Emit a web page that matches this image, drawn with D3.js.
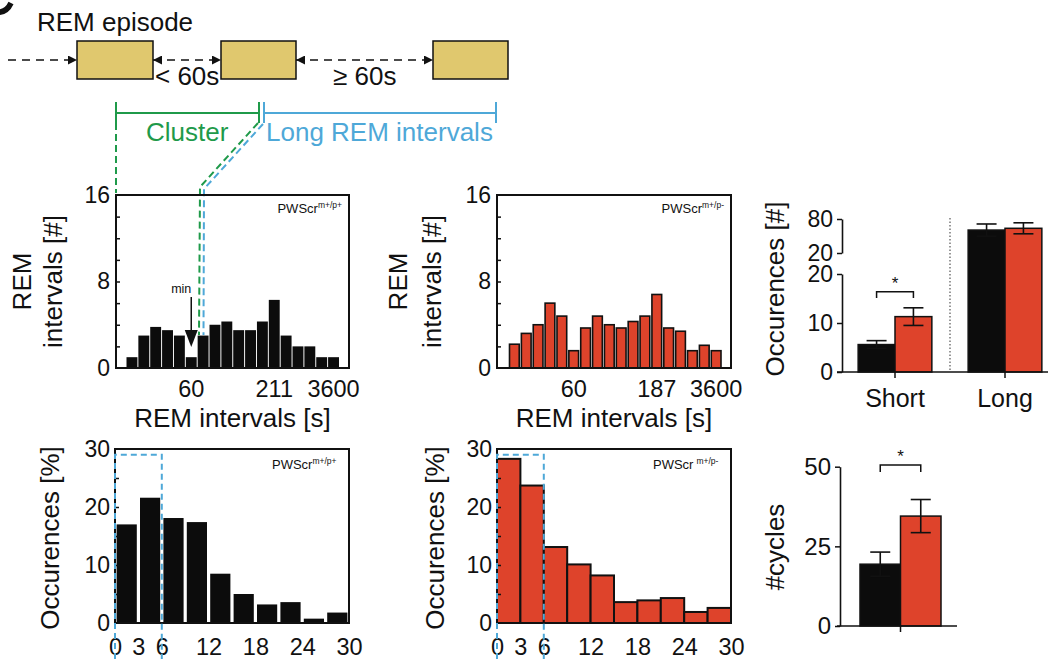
<!DOCTYPE html>
<html><head><meta charset="utf-8">
<script src="https://cdn.jsdelivr.net/npm/d3@7"></script>
<style>
body{margin:0;background:#fff}
svg{display:block}
text{font-family:"Liberation Sans",Arial,Helvetica,sans-serif;fill:#111}
</style>
</head><body>
<svg id="chart" width="1056" height="659"></svg>
<script>
// ---------------- DATA ----------------
// Panel: REM interval histograms (log-spaced bins, counts #)
const wtIntervals  = [1, 3, 3.8, 3.5, 3, 1, 3, 4, 4.3, 3.5, 3.5, 4.3, 6.3, 3, 2, 2, 1, 1];
const mutIntervals = [2.2, 3.2, 4.0, 6.0, 4.8, 1.6, 3.7, 4.8, 4.0, 3.7, 4.3, 4.8, 6.8, 3.7, 3.4, 1.6, 2.1, 1.6];
const wtTickBins   = [5, 12, 17];
const wtTickLabels = ["60", "211", "3600"];
const mutTickBins  = [5, 12, 17];
const mutTickLabels = ["60", "187", "3600"];
const remYTicks = [0, 8, 16];

// Panel: cycle length distributions (%)
const cycleBinStarts = [0, 3, 6, 9, 12, 15, 18, 21, 24, 27];
const cycleBinWidth = 3;
const wtCycles  = [17.0, 21.6, 18.1, 17.4, 8.5, 5.0, 3.2, 3.6, 0.75, 1.8];
const mutCycles = [28.3, 23.7, 13.1, 10.1, 8.2, 3.6, 3.9, 4.3, 1.9, 2.6];
const cycleXTicks = [0, 3, 6, 12, 18, 24, 30];
const pctYTicks = [0, 10, 20, 30];

// Panel: occurrences short/long (#)
const occGroups = ["Short", "Long"];
const occWT     = [5.6, 60.5];
const occWTErr  = [0.8, 10.7];
const occMut    = [11.3, 63.6];
const occMutErr = [1.8, 9.7];
const occLowerTicks = [0, 10, 20];
const occUpperTicks = [20, 80];
const occSig = {top: 16.4, leg: 15.1};

// Panel: #cycles
const cyclesWT = 19.4, cyclesWTErr = 3.8;
const cyclesMut = 34.5, cyclesMutErr = 5.2;
const cyclesTicks = [0, 25, 50];
const cyclesSig = {top: 50.5, leg: 48.3};

// ---------------- STYLE ----------------
const BLACK = "#0c0c0c", RED = "#de432b", GOLD = "#e0c86e", GREEN = "#1f9a4a", BLUE = "#4ea8d8";
const TICK_FS = 23, TITLE_FS = 25;

const svg = d3.select("#chart");
svg.append("rect").attr("width", 1056).attr("height", 659).attr("fill", "#fff");

const defs = svg.append("defs");
defs.append("marker").attr("id", "arr").attr("viewBox", "0 0 10 10").attr("refX", 10).attr("refY", 5)
  .attr("markerWidth", 10).attr("markerHeight", 9).attr("markerUnits", "userSpaceOnUse").attr("orient", "auto-start-reverse")
  .append("path").attr("d", "M0,0 L10,5 L0,10 Z").attr("fill", "#111");

function styleAxis(g, fs) {
  g.select(".domain").remove();
  g.selectAll("text").style("font-size", fs + "px").attr("fill", "#111");
  g.selectAll("line").attr("stroke", "#111").attr("stroke-width", 1.5);
}

function rotLabel(x, y, txt, fs) {
  svg.append("text").attr("transform", `translate(${x},${y}) rotate(-90)`)
    .attr("text-anchor", "middle").attr("dy", "0.35em").style("font-size", fs + "px").text(txt);
}

function genoLabel(xAnchor, y, sup, anchor, gap) {
  const t = svg.append("text").attr("x", xAnchor).attr("y", y).attr("text-anchor", anchor).style("font-size", "13px");
  t.append("tspan").text("PWScr");
  t.append("tspan").attr("dx", gap).attr("dy", -5).style("font-size", "8.5px").text(sup);
}

// ---------------- SCHEMATIC ----------------
(function schematic() {
  const g = svg.append("g");
  const yMid = 60, boxTop = 41, boxH = 38;
  const boxes = [[77, 153], [221, 296], [433, 508]];
  // panel letter fragment (cut by the figure edge)
  svg.append("path").attr("d", "M-6,12 Q6,14 11,3").attr("fill", "none").attr("stroke", "#111").attr("stroke-width", 5.5);
  g.append("text").attr("x", 37).attr("y", 31).style("font-size", "26px").text("REM episode");
  const dash = "8,6";
  g.append("line").attr("x1", 8).attr("x2", boxes[0][0]).attr("y1", yMid).attr("y2", yMid)
    .attr("stroke", "#111").attr("stroke-width", 1.5).attr("stroke-dasharray", dash).attr("marker-end", "url(#arr)");
  for (let i = 0; i < boxes.length - 1; i++) {
    g.append("line").attr("x1", boxes[i][1]).attr("x2", boxes[i + 1][0]).attr("y1", yMid).attr("y2", yMid)
      .attr("stroke", "#111").attr("stroke-width", 1.5).attr("stroke-dasharray", dash)
      .attr("marker-start", "url(#arr)").attr("marker-end", "url(#arr)");
  }
  g.selectAll("rect.box").data(boxes).join("rect").attr("class", "box")
    .attr("x", d => d[0]).attr("y", boxTop).attr("width", d => d[1] - d[0]).attr("height", boxH)
    .attr("fill", GOLD).attr("stroke", "#111").attr("stroke-width", 1.5);
  g.append("text").attr("x", 155).attr("y", 85).style("font-size", "26px").text("< 60s");
  g.append("text").attr("x", 333).attr("y", 85).style("font-size", "26px").text("\u2265 60s");

  function bracket(x1, x2, col) {
    g.append("line").attr("x1", x1).attr("x2", x2).attr("y1", 113).attr("y2", 113).attr("stroke", col).attr("stroke-width", 2);
    [x1, x2].forEach(x => g.append("line").attr("x1", x).attr("x2", x).attr("y1", 102).attr("y2", 123).attr("stroke", col).attr("stroke-width", 2));
  }
  bracket(116, 259, GREEN);
  bracket(264, 496, BLUE);
  g.append("text").attr("x", 146).attr("y", 141).style("fill", GREEN).style("font-size", "26px").text("Cluster");
  g.append("text").attr("x", 266).attr("y", 141).style("fill", BLUE).style("font-size", "26px").text("Long REM intervals");

  const dl = "7,4";
  g.append("path").attr("d", "M116,123 V193").attr("fill", "none").attr("stroke", GREEN).attr("stroke-width", 2).attr("stroke-dasharray", dl);
  g.append("path").attr("d", "M258,123 L200,187 L199,335").attr("fill", "none").attr("stroke", GREEN).attr("stroke-width", 2).attr("stroke-dasharray", dl);
  g.append("path").attr("d", "M263,124 L204,189 L203.5,335").attr("fill", "none").attr("stroke", BLUE).attr("stroke-width", 2).attr("stroke-dasharray", dl);
})();

// ---------------- TOP HISTOGRAMS ----------------
function remHist(o) {
  const g = svg.append("g");
  const x = d3.scaleBand().domain(d3.range(o.values.length)).range(o.barRange).paddingInner(o.pad);
  const y = d3.scaleLinear().domain([0, 16]).range([o.y1, o.y0]);
  g.selectAll("rect.bar").data(o.values).join("rect").attr("class", "bar")
    .attr("x", (d, i) => x(i)).attr("y", d => y(d)).attr("width", x.bandwidth()).attr("height", d => y(0) - y(d))
    .attr("fill", o.fill).attr("stroke", o.stroke).attr("stroke-width", o.stroke === "none" ? 0 : 1.6);
  g.append("rect").attr("x", o.x0).attr("y", o.y0).attr("width", o.x1 - o.x0).attr("height", o.y1 - o.y0)
    .attr("fill", "none").attr("stroke", "#111").attr("stroke-width", 2);
  g.append("g").attr("transform", `translate(${o.x0},0)`)
    .call(d3.axisLeft(y).tickValues(remYTicks).tickSize(0).tickPadding(6)).call(a => styleAxis(a, TICK_FS));
  g.append("g").attr("transform", `translate(${o.x0},0)`)
    .call(d3.axisRight(y).tickValues(d3.range(2, 16, 2)).tickSize(4).tickFormat("")).call(a => styleAxis(a, TICK_FS));
  const lab = {};
  o.tickBins.forEach((b, i) => lab[b] = o.tickLabels[i]);
  g.append("g").attr("transform", `translate(0,${o.y1})`)
    .call(d3.axisBottom(x).tickValues(o.tickBins).tickSize(0).tickPadding(12).tickFormat(b => lab[b]))
    .call(a => styleAxis(a, TICK_FS + 0.5));
  svg.append("text").attr("x", (o.x0 + o.x1) / 2).attr("y", 427).attr("text-anchor", "middle")
    .style("font-size", TITLE_FS + 1 + "px").text("REM intervals [s]");
  rotLabel(o.titleX[0], (o.y0 + o.y1) / 2, "REM", TITLE_FS + 1);
  rotLabel(o.titleX[1], (o.y0 + o.y1) / 2, "intervals [#]", TITLE_FS + 1);
  genoLabel(o.x1 - 7, 213, o.sup, "end", 0);
  return {x, y};
}

const wtH = remHist({x0: 116, x1: 349, y0: 195, y1: 368, barRange: [126.5, 339], pad: 0.08,
  values: wtIntervals, fill: BLACK, stroke: "none", tickBins: wtTickBins, tickLabels: wtTickLabels,
  titleX: [22, 53], sup: "m+/p+"});
remHist({x0: 497, x1: 731, y0: 195, y1: 368, barRange: [509.5, 721], pad: 0.18,
  values: mutIntervals, fill: RED, stroke: "#111", tickBins: mutTickBins, tickLabels: mutTickLabels,
  titleX: [398, 432], sup: "m+/p-"});

// "min" arrow on WT histogram
(function () {
  const xc = wtH.x(5) + wtH.x.bandwidth() / 2;
  svg.append("text").attr("x", xc - 10).attr("y", 293).attr("text-anchor", "middle").style("font-size", "12.5px").text("min");
  svg.append("line").attr("x1", xc).attr("x2", xc).attr("y1", 297).attr("y2", 331).attr("stroke", "#111").attr("stroke-width", 1.5);
  svg.append("path").attr("d", `M${xc - 6.5},330 L${xc + 6.5},330 L${xc},347 Z`).attr("fill", "#111");
})();

// ---------------- BOTTOM HISTOGRAMS ----------------
function cycHist(o) {
  const g = svg.append("g");
  const x = d3.scaleLinear().domain([0, 30]).range([o.x0, o.x1]);
  const y = d3.scaleLinear().domain([0, 30]).range([o.y1, o.y0]);
  g.selectAll("rect.bar").data(o.values).join("rect").attr("class", "bar")
    .attr("x", (d, i) => x(cycleBinStarts[i]) + o.inset)
    .attr("y", d => y(d))
    .attr("width", (d, i) => x(cycleBinStarts[i] + cycleBinWidth) - x(cycleBinStarts[i]) - 2 * o.inset)
    .attr("height", d => y(0) - y(d))
    .attr("fill", o.fill).attr("stroke", o.stroke).attr("stroke-width", o.stroke === "none" ? 0 : 2);
  g.append("rect").attr("x", o.x0).attr("y", o.y0).attr("width", o.x1 - o.x0).attr("height", o.y1 - o.y0)
    .attr("fill", "none").attr("stroke", "#111").attr("stroke-width", 2);
  g.append("g").attr("transform", `translate(${o.x0},0)`)
    .call(d3.axisLeft(y).tickValues(pctYTicks).tickSize(0).tickPadding(5)).call(a => styleAxis(a, TICK_FS));
  g.append("g").attr("transform", `translate(${o.x0},0)`)
    .call(d3.axisRight(y).tickValues(d3.range(5, 30, 5)).tickSize(4).tickFormat("")).call(a => styleAxis(a, TICK_FS));
  g.append("g").attr("transform", `translate(0,${o.y1})`)
    .call(d3.axisBottom(x).tickValues(cycleXTicks).tickSize(0).tickPadding(15)).call(a => styleAxis(a, TICK_FS + 0.5));
  g.append("path").attr("d", `M${x(0)},659 V${y(29)} H${x(6)} V659`).attr("fill", "none")
    .attr("stroke", BLUE).attr("stroke-width", 2).attr("stroke-dasharray", "6,4");
  rotLabel(o.titleX, (o.y0 + o.y1) / 2 + 2, "Occurences [%]", TITLE_FS + 1);
  genoLabel(o.labelX, 469, o.sup, "start", o.gap);
}
cycHist({x0: 115, x1: 349, y0: 449, y1: 623, values: wtCycles, fill: BLACK, stroke: "none", inset: 1.6,
  titleX: 50, labelX: 272, sup: "m+/p+", gap: 0});
cycHist({x0: 497, x1: 731, y0: 449, y1: 623, values: mutCycles, fill: RED, stroke: "#111", inset: 0,
  titleX: 435, labelX: 653, sup: "m+/p-", gap: 3});

// ---------------- OCCURRENCES (broken axis) ----------------
(function () {
  const g = svg.append("g");
  const axX = 842;
  const yLo = d3.scaleLinear().domain([0, 20]).range([372, 274]);
  const yHi = d3.scaleLinear().domain([20, 80]).range([253, 219]);
  const yv = v => v <= 20 ? yLo(v) : yHi(v);
  const xg = d3.scaleBand().domain(occGroups).range([840, 1060]).paddingInner(0.33).paddingOuter(0.165);
  const xs = d3.scaleBand().domain(["wt", "mut"]).range([0, xg.bandwidth()]);
  g.append("line").attr("x1", 950).attr("x2", 950).attr("y1", 218).attr("y2", 370)
    .attr("stroke", "#777").attr("stroke-width", 1.5).attr("stroke-dasharray", "1.5,2");
  const rows = occGroups.map((k, i) => ({k, wt: occWT[i], wtE: occWTErr[i], mut: occMut[i], mutE: occMutErr[i]}));
  rows.forEach(r => {
    [["wt", r.wt, r.wtE, BLACK], ["mut", r.mut, r.mutE, RED]].forEach(([s, v, e, col]) => {
      const bx = xg(r.k) + xs(s), cx = bx + xs.bandwidth() / 2;
      g.append("rect").attr("x", bx).attr("y", yv(v)).attr("width", xs.bandwidth()).attr("height", yLo(0) - yv(v))
        .attr("fill", col).attr("stroke", "#111").attr("stroke-width", 1.5);
      g.append("line").attr("x1", cx).attr("x2", cx).attr("y1", yv(v + e)).attr("y2", yv(v - e)).attr("stroke", "#111").attr("stroke-width", 1.6);
      [v + e, v - e].forEach(t => g.append("line").attr("x1", cx - 10).attr("x2", cx + 10).attr("y1", yv(t)).attr("y2", yv(t)).attr("stroke", "#111").attr("stroke-width", 1.6));
    });
  });
  [[yLo, occLowerTicks], [yHi, occUpperTicks]].forEach(([sc, tv]) => {
    const a = g.append("g").attr("transform", `translate(${axX},0)`)
      .call(d3.axisLeft(sc).tickValues(tv).tickSize(5).tickSizeOuter(0).tickPadding(4));
    a.selectAll("text").style("font-size", TICK_FS + "px").attr("fill", "#111");
    a.selectAll("line").attr("stroke", "#111").attr("stroke-width", 1.5);
    a.select(".domain").attr("stroke", "#111").attr("stroke-width", 1.6);
  });
  g.append("line").attr("x1", 837).attr("x2", 1048).attr("y1", 372).attr("y2", 372).attr("stroke", "#111").attr("stroke-width", 1.6);
  const xa = g.append("g").attr("transform", "translate(0,372)")
    .call(d3.axisBottom(xg).tickSize(6).tickSizeOuter(0).tickPadding(11));
  xa.select(".domain").remove();
  xa.selectAll("text").style("font-size", TITLE_FS + "px").attr("fill", "#111");
  xa.selectAll("line").attr("stroke", "#111").attr("stroke-width", 1.5);
  const c0 = xg("Short") + xs("wt") + xs.bandwidth() / 2, c1 = xg("Short") + xs("mut") + xs.bandwidth() / 2;
  g.append("path").attr("d", `M${c0},${yLo(occSig.leg)} V${yLo(occSig.top)} H${c1} V${yLo(occSig.leg)}`)
    .attr("fill", "none").attr("stroke", "#111").attr("stroke-width", 1.5);
  g.append("text").attr("x", (c0 + c1) / 2).attr("y", yLo(occSig.top) - 3).attr("text-anchor", "middle").style("font-size", "17px").text("*");
  rotLabel(775, 289, "Occurences [#]", TITLE_FS + 1);
})();

// ---------------- #CYCLES ----------------
(function () {
  const g = svg.append("g");
  const axX = 840;
  const y = d3.scaleLinear().domain([0, 50]).range([626, 466.7]);
  const xs = d3.scaleBand().domain(["wt", "mut"]).range([860, 941]);
  const bars = [["wt", cyclesWT, cyclesWTErr, BLACK], ["mut", cyclesMut, cyclesMutErr, RED]];
  bars.forEach(([s, v, e, col]) => {
    const bx = xs(s), cx = bx + xs.bandwidth() / 2;
    g.append("rect").attr("x", bx).attr("y", y(v)).attr("width", xs.bandwidth()).attr("height", y(0) - y(v))
      .attr("fill", col).attr("stroke", "#111").attr("stroke-width", 1.5);
    g.append("line").attr("x1", cx).attr("x2", cx).attr("y1", y(v + e)).attr("y2", y(v - e)).attr("stroke", "#111").attr("stroke-width", 1.6);
    [v + e, v - e].forEach(t => g.append("line").attr("x1", cx - 10).attr("x2", cx + 10).attr("y1", y(t)).attr("y2", y(t)).attr("stroke", "#111").attr("stroke-width", 1.6));
  });
  const a = g.append("g").attr("transform", `translate(${axX},0)`)
    .call(d3.axisLeft(y).tickValues(cyclesTicks).tickSize(5).tickSizeOuter(0).tickPadding(4));
  a.selectAll("text").style("font-size", TICK_FS + 1 + "px").attr("fill", "#111");
  a.selectAll("line").attr("stroke", "#111").attr("stroke-width", 1.5);
  a.select(".domain").attr("stroke", "#111").attr("stroke-width", 1.6);
  g.append("line").attr("x1", 837).attr("x2", 957).attr("y1", 626).attr("y2", 626).attr("stroke", "#111").attr("stroke-width", 1.6);
  const xMid = (xs("wt") + xs("mut") + xs.bandwidth()) / 2;
  g.append("line").attr("x1", xMid).attr("x2", xMid).attr("y1", 626).attr("y2", 632).attr("stroke", "#111").attr("stroke-width", 1.5);
  const c0 = xs("wt") + xs.bandwidth() / 2, c1 = xs("mut") + xs.bandwidth() / 2;
  g.append("path").attr("d", `M${c0},${y(cyclesSig.leg)} V${y(cyclesSig.top)} H${c1} V${y(cyclesSig.leg)}`)
    .attr("fill", "none").attr("stroke", "#111").attr("stroke-width", 1.5);
  g.append("text").attr("x", (c0 + c1) / 2).attr("y", y(cyclesSig.top) - 3).attr("text-anchor", "middle").style("font-size", "17px").text("*");
  rotLabel(775, 547, "#cycles", TITLE_FS + 1);
})();
</script>
</body></html>
